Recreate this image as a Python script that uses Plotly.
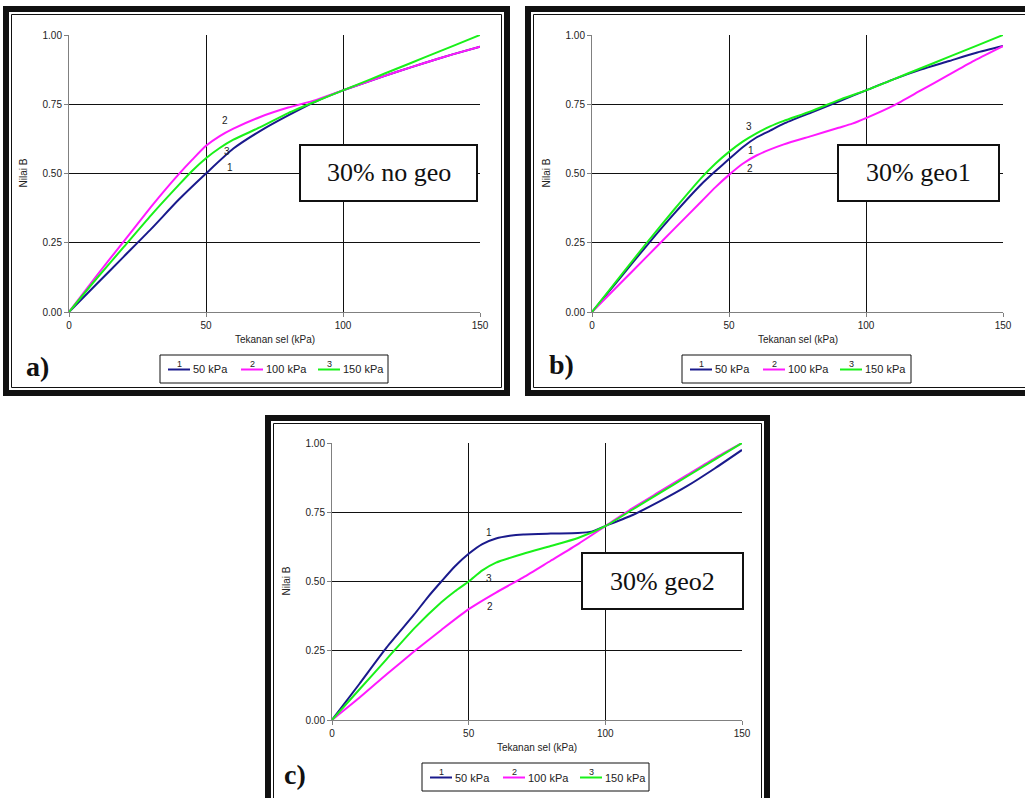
import plotly.graph_objects as go

W, H = 1025, 798

# ---------------- data ----------------
series_names = ["50 kPa", "100 kPa", "150 kPa"]
series_nums = ["1", "2", "3"]
series_colors = ["#1a1a8c", "#ff19ff", "#19f019"]

# Panel a) 30% no geo
a_x_50 = [0, 10, 20, 30, 40, 50, 60, 70, 80, 90, 100, 110, 120, 130, 140, 150]
a_y_50 = [0, 0.10, 0.20, 0.30, 0.405, 0.50, 0.59, 0.655, 0.71, 0.76, 0.80, 0.835, 0.868, 0.90, 0.93, 0.958]
a_x_100 = [0, 10, 20, 30, 35, 40, 45, 50, 55, 60, 70, 80, 90, 100, 110, 120, 130, 140, 150]
a_y_100 = [0, 0.13, 0.255, 0.38, 0.44, 0.497, 0.55, 0.60, 0.635, 0.662, 0.705, 0.738, 0.765, 0.80, 0.835, 0.868, 0.90, 0.93, 0.958]
a_x_150 = [0, 10, 20, 30, 40, 45, 50, 55, 60, 70, 80, 90, 100, 110, 120, 130, 140, 150]
a_y_150 = [0, 0.12, 0.235, 0.35, 0.458, 0.51, 0.555, 0.592, 0.622, 0.668, 0.718, 0.76, 0.80, 0.84, 0.88, 0.92, 0.96, 1.00]

# Panel b) 30% geo1
b_x_50 = [0, 10, 20, 30, 40, 45, 50, 55, 60, 65, 70, 80, 90, 100, 110, 120, 130, 140, 150]
b_y_50 = [0, 0.12, 0.24, 0.355, 0.462, 0.508, 0.552, 0.595, 0.63, 0.655, 0.68, 0.72, 0.76, 0.80, 0.84, 0.875, 0.905, 0.935, 0.96]
b_x_100 = [0, 10, 20, 30, 40, 45, 50, 55, 60, 70, 80, 90, 95, 100, 110, 120, 130, 140, 150]
b_y_100 = [0, 0.10, 0.20, 0.30, 0.40, 0.45, 0.495, 0.535, 0.565, 0.605, 0.635, 0.665, 0.68, 0.70, 0.745, 0.80, 0.855, 0.91, 0.96]
b_x_150 = [0, 10, 20, 30, 40, 45, 50, 55, 60, 65, 70, 80, 90, 100, 110, 120, 130, 140, 150]
b_y_150 = [0, 0.125, 0.25, 0.37, 0.485, 0.535, 0.578, 0.615, 0.645, 0.67, 0.69, 0.725, 0.765, 0.80, 0.84, 0.88, 0.92, 0.96, 1.00]

# Panel c) 30% geo2
c_x_50 = [0, 10, 20, 30, 35, 40, 45, 50, 55, 60, 65, 70, 80, 90, 95, 100, 110, 120, 130, 140, 150]
c_y_50 = [0, 0.13, 0.262, 0.38, 0.443, 0.50, 0.555, 0.60, 0.635, 0.655, 0.665, 0.67, 0.673, 0.675, 0.68, 0.70, 0.74, 0.79, 0.845, 0.908, 0.975]
c_x_100 = [0, 10, 20, 30, 40, 50, 60, 70, 80, 90, 100, 110, 120, 130, 140, 150]
c_y_100 = [0, 0.08, 0.165, 0.247, 0.325, 0.40, 0.46, 0.515, 0.575, 0.635, 0.70, 0.765, 0.825, 0.885, 0.945, 1.00]
c_x_150 = [0, 10, 20, 30, 40, 45, 50, 55, 60, 70, 80, 90, 100, 110, 120, 130, 140, 150]
c_y_150 = [0, 0.11, 0.22, 0.33, 0.425, 0.465, 0.50, 0.54, 0.568, 0.60, 0.628, 0.657, 0.70, 0.76, 0.82, 0.88, 0.94, 1.00]

# curve number labels (x, y) per panel, order 1,2,3
a_label_pos = [(58.8, 0.52), (57, 0.69), (57.5, 0.58)]
b_label_pos = [(58, 0.584), (57.7, 0.518), (57.3, 0.67)]
c_label_pos = [(57.3, 0.678), (57.7, 0.41), (57.3, 0.51)]

panel_titles = ["30% no geo", "30% geo1", "30% geo2"]
panel_letters = ["a)", "b)", "c)"]
x_ticks = [0, 50, 100, 150]
y_ticks = [0, 0.25, 0.5, 0.75, 1.0]
x_title = "Tekanan sel (kPa)"
y_title = "Nilai B"

# ---------------- layout geometry (pixels) ----------------
def fx(p):
    return p / W

def fy(p):
    return 1 - p / H

panels = [
    dict(ax="", plot=(69, 480, 35, 312), frame=(3, 510, 6, 396), box=(300, 477, 145, 201),
         legend=(160, 388, 355, 383), letter=(37, 366),
         xs=[a_x_50, a_x_100, a_x_150], ys=[a_y_50, a_y_100, a_y_150], lab=a_label_pos),
    dict(ax="2", plot=(592, 1003, 35, 312), frame=(525, 1040, 6, 396), box=(838, 999, 145, 201),
         legend=(682, 911, 355, 383), letter=(561, 364),
         xs=[b_x_50, b_x_100, b_x_150], ys=[b_y_50, b_y_100, b_y_150], lab=b_label_pos),
    dict(ax="3", plot=(332, 742, 443, 720), frame=(265, 770, 415, 815), box=(582, 743, 553, 609),
         legend=(422, 649, 763, 791), letter=(295, 774),
         xs=[c_x_50, c_x_100, c_x_150], ys=[c_y_50, c_y_100, c_y_150], lab=c_label_pos),
]

fig = go.Figure()
shapes = []
annotations = []
layout_axes = {}

sans = "Liberation Sans, Arial"
serif = "Liberation Serif, Times New Roman"
tick_font = dict(family=sans, size=10, color="#222222")


def note(x, y, text, font, xanchor="center", yanchor="middle", xref="paper", yref="paper", **kw):
    annotations.append(dict(x=x, y=y, xref=xref, yref=yref, text=text, showarrow=False,
                            xanchor=xanchor, yanchor=yanchor, font=font, **kw))


for i, p in enumerate(panels):
    ax = p["ax"]
    x0, x1, y0, y1 = p["plot"]
    xname = "xaxis" + ax
    yname = "yaxis" + ax
    xref = "x" + ax
    yref = "y" + ax
    layout_axes[xname] = dict(
        domain=[fx(x0), fx(x1)], range=[0, 150], anchor=yref, automargin=False,
        tickvals=x_ticks, ticks="outside", ticklen=4, tickcolor="#808080",
        showline=True, linecolor="#808080", linewidth=1,
        showgrid=True, gridcolor="#111111", gridwidth=1, zeroline=False,
        tickfont=tick_font, fixedrange=True,
    )
    layout_axes[yname] = dict(
        domain=[fy(y1), fy(y0)], range=[0, 1], anchor=xref, automargin=False,
        tickvals=y_ticks, tickformat=".2f", ticks="outside", ticklen=4, tickcolor="#808080",
        showline=True, linecolor="#808080", linewidth=1,
        showgrid=True, gridcolor="#111111", gridwidth=1, zeroline=False,
        tickfont=tick_font, fixedrange=True,
    )
    for k in range(3):
        fig.add_trace(go.Scatter(
            x=p["xs"][k], y=p["ys"][k], mode="lines", name=series_names[k],
            line=dict(color=series_colors[k], width=2, shape="spline", smoothing=0.6),
            xaxis=xref, yaxis=yref, showlegend=False,
        ))
        lx, ly = p["lab"][k]
        note(lx, ly, series_nums[k], dict(family=sans, size=10, color="#222222"), xref=xref, yref=yref)

    # axis titles
    note(fx((x0 + x1) / 2), fy(y1 + 27), x_title, dict(family=sans, size=10, color="#222222"))
    note(fx(x0 - 46), fy((y0 + y1) / 2), y_title, dict(family=sans, size=10, color="#222222"), textangle=-90)

    # frame: thick outer + thin inner
    fl, fr, ft, fb = p["frame"]
    shapes.append(dict(type="rect", xref="paper", yref="paper",
                       x0=fx(fl + 3), x1=fx(fr - 3), y0=fy(fb - 3), y1=fy(ft + 3),
                       line=dict(color="#111111", width=6), fillcolor="rgba(0,0,0,0)", layer="above"))
    shapes.append(dict(type="rect", xref="paper", yref="paper",
                       x0=fx(fl + 8.5), x1=fx(fr - 8.5), y0=fy(fb - 8.5), y1=fy(ft + 8.5),
                       line=dict(color="#111111", width=1), fillcolor="rgba(0,0,0,0)", layer="above"))

    # title box
    bl, br, bt, bb = p["box"]
    shapes.append(dict(type="rect", xref="paper", yref="paper",
                       x0=fx(bl), x1=fx(br), y0=fy(bb), y1=fy(bt),
                       line=dict(color="#111111", width=2), fillcolor="white", layer="above"))
    note(fx((bl + br) / 2), fy((bt + bb) / 2), panel_titles[i], dict(family=serif, size=26, color="#111111"))

    # panel letter
    lx, ly = p["letter"]
    note(fx(lx), fy(ly), "<b>" + panel_letters[i] + "</b>", dict(family=serif, size=28, color="#111111"))

    # custom legend
    gl, gr, gt, gb = p["legend"]
    shapes.append(dict(type="rect", xref="paper", yref="paper",
                       x0=fx(gl), x1=fx(gr), y0=fy(gb), y1=fy(gt),
                       line=dict(color="#111111", width=1), fillcolor="white", layer="above"))
    ymid = (gt + gb) / 2 + 0.5
    offsets = [8, 81, 158]
    for k in range(3):
        sx0 = gl + offsets[k]
        sx1 = sx0 + 22
        shapes.append(dict(type="line", xref="paper", yref="paper",
                           x0=fx(sx0), x1=fx(sx1), y0=fy(ymid), y1=fy(ymid),
                           line=dict(color=series_colors[k], width=2), layer="above"))
        note(fx((sx0 + sx1) / 2), fy(ymid - 6), series_nums[k], dict(family=sans, size=9, color="#222222"))
        note(fx(sx1 + 1), fy(ymid), series_names[k], dict(family=sans, size=11, color="#222222"),
             xanchor="left")

fig.update_layout(
    template="none",
    width=W, height=H, margin=dict(l=0, r=0, t=0, b=0, pad=0), autosize=False,
    paper_bgcolor="white", plot_bgcolor="white",
    shapes=shapes, annotations=annotations, showlegend=False,
    **layout_axes,
)

fig.write_html("out.html")
